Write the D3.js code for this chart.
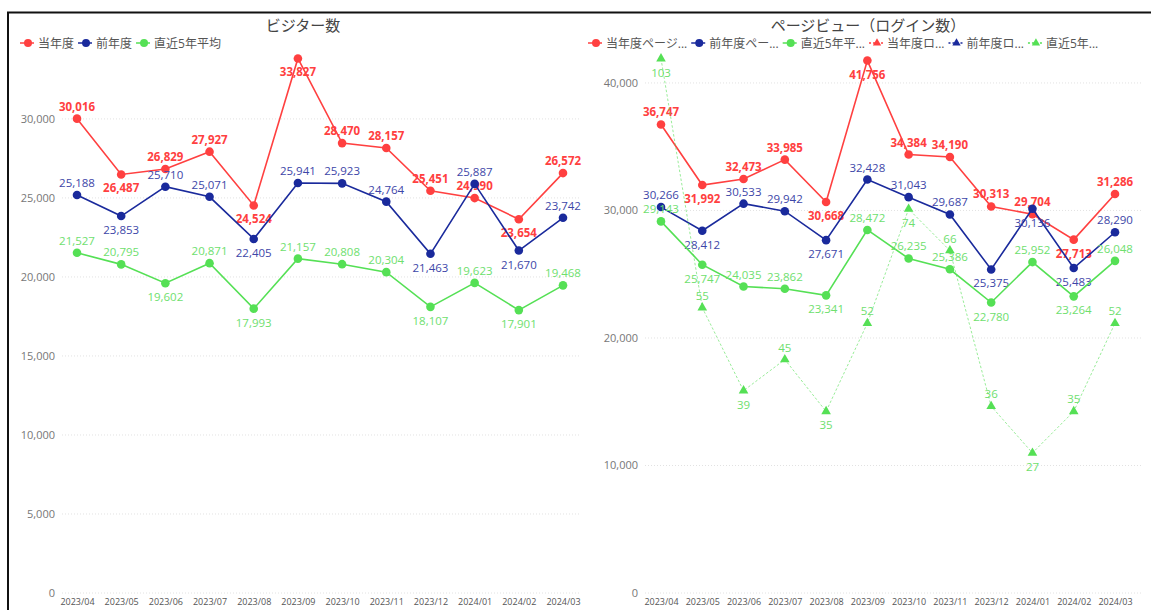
<!DOCTYPE html>
<html>
<head>
<meta charset="utf-8">
<script src="https://cdn.jsdelivr.net/npm/d3@7"></script>
<style>
  body { margin: 0; background: #fff; }
  svg text { font-family: "Segoe UI", "Open Sans", "Noto Sans CJK JP", sans-serif; }
</style>
</head>
<body>
<script>
'use strict';

const months = ["2023/04", "2023/05", "2023/06", "2023/07", "2023/08", "2023/09",
  "2023/10", "2023/11", "2023/12", "2024/01", "2024/02", "2024/03"];

// visitors
const visitCur = [30016, 26487, 26829, 27927, 24524, 33827, 28470, 28157, 25451, 24990, 23654, 26572];
const visitPrev = [25188, 23853, 25710, 25071, 22405, 25941, 25923, 24764, 21463, 25887, 21670, 23742];
const visitAvg = [21527, 20795, 19602, 20871, 17993, 21157, 20808, 20304, 18107, 19623, 17901, 19468];
// label above (1) or below (-1)
const visitCurPos = [1, -1, 1, 1, -1, -1, 1, 1, 1, 1, -1, 1];
const visitPrevPos = [1, -1, 1, 1, -1, 1, 1, 1, -1, 1, -1, 1];
const visitAvgPos = [1, 1, -1, 1, -1, 1, 1, 1, -1, 1, -1, 1];

// page views
const pvCur = [36747, 31992, 32473, 33985, 30668, 41756, 34384, 34190, 30313, 29704, 27713, 31286];
const pvPrev = [30266, 28412, 30533, 29942, 27671, 32428, 31043, 29687, 25375, 30136, 25483, 28290];
const pvAvg = [29143, 25747, 24035, 23862, 23341, 28472, 26235, 25386, 22780, 25952, 23264, 26048];
const loginAvg = [103, 55, 39, 45, 35, 52, 74, 66, 36, 27, 35, 52];
const pvCurPos = [1, -1, 1, 1, -1, -1, 1, 1, 1, 1, -1, 1];
const pvPrevPos = [1, -1, 1, 1, -1, 1, 1, 1, -1, -1, -1, 1];
const pvAvgPos = [1, -1, 1, 1, -1, 1, 1, 1, -1, 1, -1, 1];
const loginAvgPos = [-1, 1, -1, 1, -1, 1, -1, 1, 1, -1, 1, 1];

const leftTicks = [0, 5000, 10000, 15000, 20000, 25000, 30000];
const rightTicks = [0, 10000, 20000, 30000, 40000];

const RED = "#ff4040", BLUE = "#1a2a9c", GREEN = "#55e055";
const fmt = d3.format(",");

const svg = d3.select('body').append('svg')
  .attr('width', 1151)
  .attr('height', 610);

// outer frame
svg.append('line').attr('x1', 7).attr('x2', 1151).attr('y1', 12.5).attr('y2', 12.5)
  .attr('stroke', '#111').attr('stroke-width', 2);
svg.append('line').attr('x1', 8).attr('x2', 8).attr('y1', 12).attr('y2', 610)
  .attr('stroke', '#111').attr('stroke-width', 2);

// draw one panel
function drawPanel(p) {
  const g = svg.append('g');
  const x = d3.scalePoint().domain(months).range([p.x0, p.x1]);
  const y = d3.scaleLinear().domain([0, p.yMax]).range([593, 41]);

  // grid + y labels
  g.selectAll('.grid').data(p.ticks).enter().append('line')
    .attr('x1', p.gx0).attr('x2', p.gx1)
    .attr('y1', d => y(d)).attr('y2', d => y(d))
    .attr('stroke', '#e2e2e2').attr('stroke-dasharray', '1,2');
  g.selectAll('.ylab').data(p.ticks).enter().append('text')
    .attr('x', p.gx0 - 7).attr('y', d => y(d) + 4)
    .attr('text-anchor', 'end').attr('fill', '#777').style('font-size', '11px')
    .text(d => fmt(d));

  // x labels
  const xAxis = d3.axisBottom(x).tickSize(0).tickPadding(0);
  const ax = g.append('g').attr('transform', 'translate(0,598)').call(xAxis);
  ax.select('.domain').remove();
  ax.selectAll('text').attr('fill', '#555').style('font-size', '9px')
    .style('font-family', '"Segoe UI", "Open Sans", sans-serif').attr('dy', '0.75em');

  // title
  g.append('text').attr('x', p.titleX).attr('y', 31).attr('text-anchor', 'middle')
    .attr('fill', '#444').style('font-size', '15px').text(p.title);

  // series
  p.series.forEach(s => {
    const ys = s.scale === 'y2' ? d3.scaleLinear().domain([0, p.y2Max]).range([593, 41]) : y;
    if (!s.values.length) return;
    const pts = s.values.map((v, i) => ({ v: v, m: months[i], pos: s.pos[i] }));
    g.append('path').datum(pts)
      .attr('fill', 'none').attr('stroke', s.color)
      .attr('stroke-width', s.dash ? 1 : 1.6)
      .attr('stroke-dasharray', s.dash ? '2.5,2' : null)
      .attr('opacity', s.dash ? 0.6 : 1)
      .attr('d', d3.line().x(d => x(d.m)).y(d => ys(d.v)));
    if (s.marker === 'circle') {
      g.selectAll(null).data(pts).enter().append('circle')
        .attr('cx', d => x(d.m)).attr('cy', d => ys(d.v)).attr('r', 4.3)
        .attr('fill', s.color);
    } else {
      g.selectAll(null).data(pts).enter().append('path')
        .attr('transform', d => 'translate(' + x(d.m) + ',' + ys(d.v) + ')')
        .attr('d', d3.symbol(d3.symbolTriangle, 40)).attr('fill', s.color);
    }
    g.selectAll(null).data(pts).enter().append('text')
      .attr('x', d => x(d.m))
      .attr('y', d => ys(d.v) + (d.pos > 0 ? -8 : 18))
      .attr('text-anchor', 'middle')
      .attr('fill', s.labelColor)
      .style('font-size', '11.5px')
      .style('font-weight', s.bold ? 'bold' : 'normal')
      .text(d => fmt(d.v));
  });

  // legend
  let lx = p.legendX;
  p.series.forEach(s => {
    const lg = g.append('g').attr('transform', 'translate(' + lx + ',43)');
    lg.append('line').attr('x1', 0).attr('x2', 14).attr('y1', 0).attr('y2', 0)
      .attr('stroke', s.color).attr('stroke-width', 1.5)
      .attr('stroke-dasharray', s.dash ? '2,2' : null);
    if (s.marker === 'circle') {
      lg.append('circle').attr('cx', 8).attr('cy', 0).attr('r', 4).attr('fill', s.color);
    } else {
      lg.append('path').attr('transform', 'translate(8,0)')
        .attr('d', d3.symbol(d3.symbolTriangle, 30)).attr('fill', s.color);
    }
    const t = lg.append('text').attr('x', 18).attr('y', 4.5).attr('fill', '#555')
      .style('font-size', '12px').text(s.name);
    lx += 18 + t.node().getComputedTextLength() + 4;
  });
}

drawPanel({
  title: "ビジター数", titleX: 303,
  x0: 77, x1: 563, gx0: 62, gx1: 580,
  yMax: 34930, ticks: leftTicks, legendX: 20,
  series: [
    { name: "当年度", values: visitCur, pos: visitCurPos, color: RED, labelColor: RED, bold: true, marker: 'circle' },
    { name: "前年度", values: visitPrev, pos: visitPrevPos, color: BLUE, labelColor: "#3d46a8", marker: 'circle' },
    { name: "直近5年平均", values: visitAvg, pos: visitAvgPos, color: GREEN, labelColor: "#6ee06e", marker: 'circle' }
  ]
});

drawPanel({
  title: "ページビュー（ログイン数）", titleX: 868,
  x0: 661, x1: 1115, gx0: 645, gx1: 1142,
  yMax: 43290, y2Max: 106.4, ticks: rightTicks, legendX: 588,
  series: [
    { name: "当年度ページ...", values: pvCur, pos: pvCurPos, color: RED, labelColor: RED, bold: true, marker: 'circle' },
    { name: "前年度ペー...", values: pvPrev, pos: pvPrevPos, color: BLUE, labelColor: "#3d46a8", marker: 'circle' },
    { name: "直近5年平...", values: pvAvg, pos: pvAvgPos, color: GREEN, labelColor: "#6ee06e", marker: 'circle' },
    { name: "当年度ロ...", values: [], pos: [], color: RED, labelColor: RED, marker: 'triangle', dash: true, scale: 'y2' },
    { name: "前年度ロ...", values: [], pos: [], color: BLUE, labelColor: BLUE, marker: 'triangle', dash: true, scale: 'y2' },
    { name: "直近5年...", values: loginAvg, pos: loginAvgPos, color: GREEN, labelColor: "#6ee06e", marker: 'triangle', dash: true, scale: 'y2' }
  ]
});
</script>
</body>
</html>
